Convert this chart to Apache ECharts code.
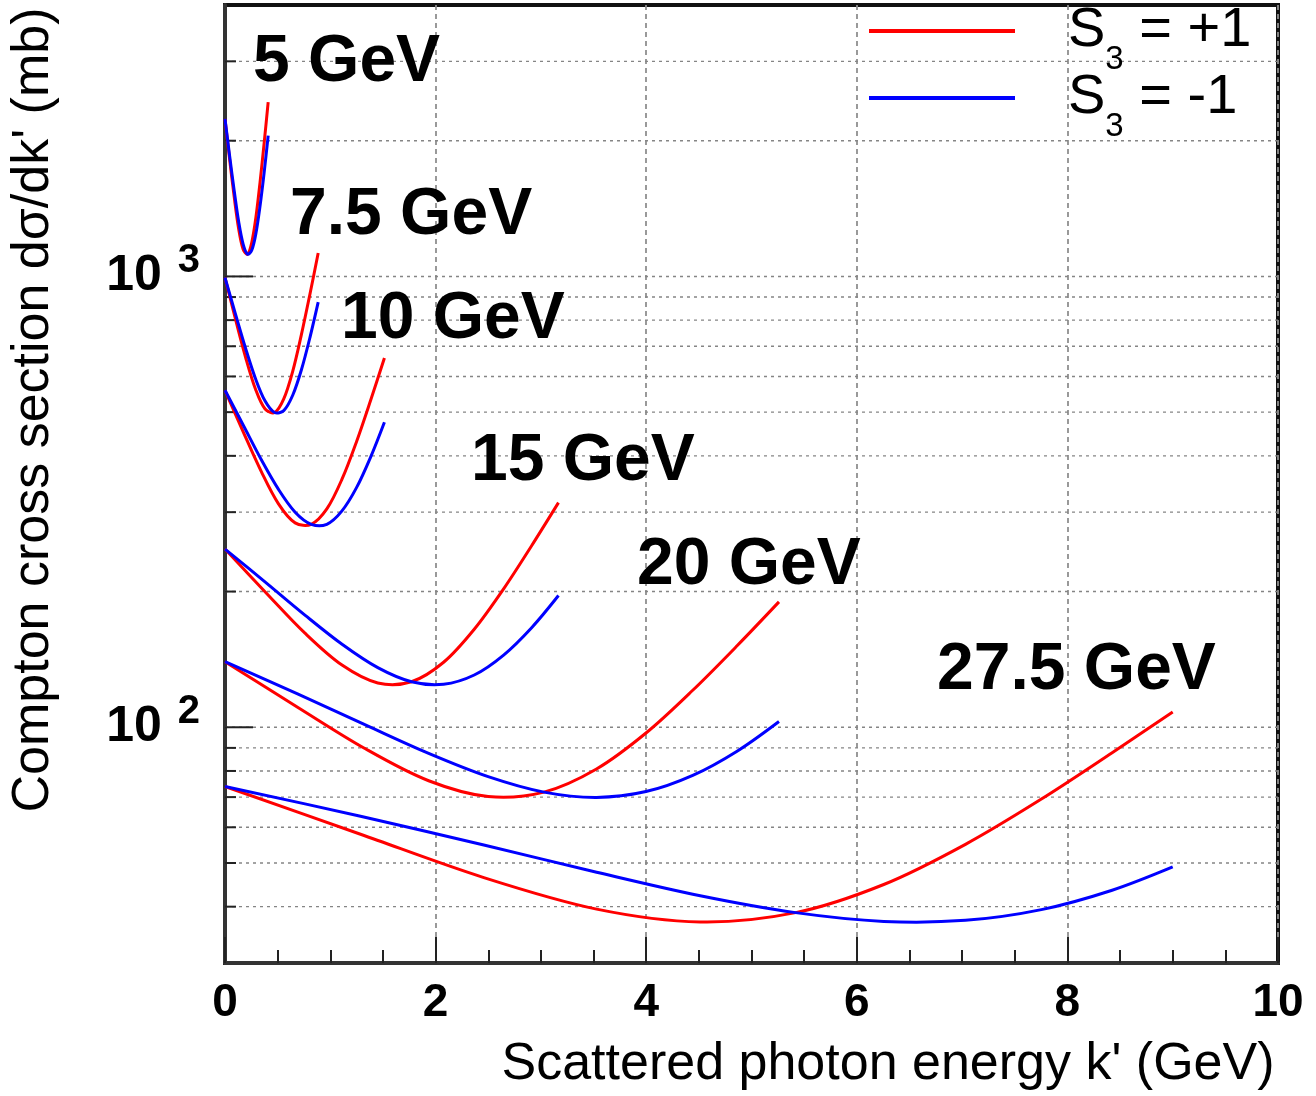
<!DOCTYPE html>
<html>
<head>
<meta charset="utf-8">
<title>Compton cross section</title>
<script src="https://cdn.jsdelivr.net/npm/echarts@6/dist/echarts.min.js"></script>
<style>
  html, body { margin: 0; padding: 0; background: #ffffff; }
  #chart { width: 1316px; height: 1096px; }
</style>
</head>
<body>
<div id="chart"></div>
<script>
// Beam energies and the curve labels drawn next to them
const beamLabels = ['5 GeV', '7.5 GeV', '10 GeV', '15 GeV', '20 GeV', '27.5 GeV'];

// Scattered photon energy k' (GeV) and dsigma/dk' (mb) for S3 = +1 / S3 = -1
const k5 = [0, 0.044, 0.088, 0.130, 0.172, 0.214, 0.254, 0.294, 0.333, 0.372, 0.410];
const plus5 = [2236, 1818, 1497, 1274, 1149, 1120, 1189, 1355, 1619, 1979, 2436];
const minus5 = [2236, 1850, 1545, 1322, 1180, 1120, 1143, 1247, 1434, 1702, 2053];

const k75 = [0, 0.099, 0.196, 0.290, 0.381, 0.471, 0.558, 0.643, 0.725, 0.806, 0.885];
const plus75 = [994, 805, 661, 562, 508, 499, 535, 616, 742, 912, 1127];
const minus75 = [994, 826, 692, 593, 529, 499, 504, 545, 620, 731, 877];

const k10 = [0, 0.175, 0.345, 0.508, 0.666, 0.819, 0.967, 1.111, 1.249, 1.384, 1.514];
const plus10 = [559, 451, 369, 313, 284, 282, 305, 355, 430, 532, 659];
const minus10 = [559, 467, 392, 337, 300, 282, 282, 302, 340, 398, 475];

const k15 = [0, 0.391, 0.762, 1.115, 1.451, 1.771, 2.076, 2.367, 2.646, 2.912, 3.167];
const plus15 = [248.5, 198.6, 161.5, 137.2, 125.4, 126.2, 139.4, 165.0, 202.8, 252.8, 315.0];
const minus15 = [248.5, 209.1, 177.1, 152.6, 135.6, 126.2, 124.6, 130.6, 144.6, 166.3, 196.0];

const k20 = [0, 0.689, 1.333, 1.934, 2.499, 3.029, 3.528, 3.998, 4.442, 4.863, 5.261];
const plus20 = [139.8, 110.8, 89.6, 76.1, 70.2, 71.8, 80.8, 97.1, 120.8, 151.6, 189.7];
const minus20 = [139.8, 118.6, 101.2, 87.5, 77.7, 71.8, 69.9, 72.0, 78.2, 88.5, 103.0];

const k275 = [0, 1.287, 2.458, 3.529, 4.513, 5.419, 6.256, 7.032, 7.753, 8.425, 9.0];
const plus275 = [73.9, 57.9, 46.4, 39.5, 37.0, 38.8, 44.8, 55.0, 69.3, 87.8, 108.1];
const minus275 = [73.9, 63.5, 54.8, 47.7, 42.3, 38.8, 37.1, 37.3, 39.4, 43.5, 49.0];

// Axis ticks
const xTicks = [0, 2, 4, 6, 8, 10];
const yTickExponents = [2, 3];
const yGridValues = [40, 50, 60, 70, 80, 90, 100, 200, 300, 400, 500, 600, 700, 800, 900, 1000, 2000, 3000];
const yMajorValues = [100, 1000];

const legendNames = ['S3 = +1', 'S3 = -1'];

// ---------------------------------------------------------------------------
const FONT = '"Liberation Sans", Arial, Helvetica, sans-serif';
const RED = '#ff0000';
const BLUE = '#0000ff';

const curves = [
  [k5, plus5, minus5],
  [k75, plus75, minus75],
  [k10, plus10, minus10],
  [k15, plus15, minus15],
  [k20, plus20, minus20],
  [k275, plus275, minus275]
];

// One smooth curve per series, passed through the axis scales with api.coord
function curveSeries(name, color, ks, vals) {
  const pts = ks.map((k, i) => [k, vals[i]]);
  return {
    name: name,
    type: 'custom',
    data: pts,
    encode: { x: 0, y: 1 },
    itemStyle: { color: color },
    silent: true,
    z: 3,
    clip: false,
    renderItem: function (params, api) {
      if (params.dataIndex !== 0) return null;
      const screen = pts.map(p => api.coord(p));
      return {
        type: 'polyline',
        shape: { points: screen, smooth: 0.33 },
        style: { stroke: color, lineWidth: 3, fill: null, lineJoin: 'round' }
      };
    }
  };
}

const series = [];

// dotted horizontal grid at every decade subdivision, with the short ticks on the left axis
series.push({
  type: 'custom',
  silent: true,
  z: 1,
  clip: false,
  data: yGridValues.map(v => [0, v]),
  encode: { x: 0, y: 1 },
  renderItem: function (params, api) {
    const v = api.value(1);
    const left = api.coord([0, v]);
    const right = api.coord([10, v]);
    const len = yMajorValues.indexOf(v) >= 0 ? 28 : 11;
    return {
      type: 'group',
      children: [
        {
          type: 'line',
          shape: { x1: left[0], y1: left[1], x2: right[0], y2: right[1] },
          style: { stroke: '#858585', lineWidth: 1.4, lineDash: [3, 4] }
        },
        {
          type: 'line',
          shape: { x1: left[0], y1: left[1], x2: left[0] + len, y2: left[1] },
          style: { stroke: '#222222', lineWidth: 2 }
        }
      ]
    };
  }
});

curves.forEach(c => {
  series.push(curveSeries(legendNames[0], RED, c[0], c[1]));
  series.push(curveSeries(legendNames[1], BLUE, c[0], c[2]));
});

// curve labels (text anchors in pixels)
const labelAnchors = [[253, 63], [290, 216], [341, 320], [471, 462], [637, 566], [937, 671]];
const graphics = beamLabels.map((t, i) => ({
  type: 'text',
  x: labelAnchors[i][0],
  y: labelAnchors[i][1],
  z: 10,
  silent: true,
  style: {
    text: t,
    font: 'bold 66px ' + FONT,
    fill: '#000000',
    verticalAlign: 'middle',
    align: 'left'
  }
}));

const chart = echarts.init(document.getElementById('chart'), null, { renderer: 'canvas' });

chart.setOption({
  animation: false,
  backgroundColor: '#ffffff',
  textStyle: { fontFamily: FONT, color: '#000' },
  grid: {
    left: 222, right: 38, top: 5, bottom: 133,
    show: true,
    borderColor: '#111111',
    borderWidth: 4,
    backgroundColor: 'transparent'
  },
  legend: {
    data: legendNames,
    orient: 'vertical',
    left: 869,
    top: 3,
    padding: 0,
    itemGap: -6,
    itemWidth: 146,
    itemHeight: 4,
    icon: 'rect',
    selectedMode: false,
    formatter: function (n) {
      return n === legendNames[0] ? '{s|S}{u|3}{s| = +1}' : '{s|S}{u|3}{s| = -1}';
    },
    textStyle: {
      padding: [0, 0, 0, 48],
      rich: {
        s: { fontSize: 56, lineHeight: 56, fontFamily: FONT, color: '#000' },
        u: { fontSize: 33, lineHeight: 33, verticalAlign: 'bottom', padding: [0, 0, -17, 0], fontFamily: FONT, color: '#000' }
      }
    }
  },
  xAxis: {
    type: 'value',
    min: xTicks[0],
    max: xTicks[xTicks.length - 1],
    interval: 2,
    name: "Scattered photon energy k' (GeV)",
    nameLocation: 'middle',
    nameGap: 76,
    nameTextStyle: { fontSize: 52, fontFamily: FONT, color: '#000', padding: [0, 0, 0, 273] },
    axisLine: { show: true, lineStyle: { color: '#333333', width: 4 } },
    axisTick: { show: true, inside: true, length: 26, lineStyle: { color: '#222222', width: 2 } },
    minorTick: { show: true, splitNumber: 4, length: 13, lineStyle: { color: '#222222', width: 2 } },
    axisLabel: {
      fontSize: 46, fontWeight: 'bold', fontFamily: FONT, color: '#000', margin: 17,
      formatter: v => (xTicks.indexOf(v) >= 0 ? String(v) : '')
    },
    splitLine: { show: true, lineStyle: { color: '#8f8f8f', width: 1.8, type: [5, 4] } },
    minorSplitLine: { show: false }
  },
  yAxis: {
    type: 'log',
    logBase: 10,
    min: 30,
    max: 4000,
    name: "Compton cross section d\u03c3/dk' (mb)",
    nameLocation: 'middle',
    nameRotate: 90,
    nameGap: 165,
    nameTextStyle: { fontSize: 52, fontFamily: FONT, color: '#000', padding: [0, 0, 0, 148] },
    axisLine: { show: true, lineStyle: { color: '#333333', width: 4 } },
    axisTick: { show: false },
    splitLine: { show: false },
    axisLabel: {
      margin: 25,
      formatter: function (v) {
        const e = Math.log10(v);
        const r = Math.round(e);
        if (Math.abs(e - r) < 1e-6 && yTickExponents.indexOf(r) >= 0) return '{b|10}{s|' + r + '}';
        return '';
      },
      rich: {
        b: { fontSize: 50, fontWeight: 'bold', lineHeight: 50, fontFamily: FONT, color: '#000' },
        s: { fontSize: 40, fontWeight: 'bold', lineHeight: 40, verticalAlign: 'top', fontFamily: FONT, color: '#000', padding: [-10, 0, 0, 16] }
      }
    }
  },
  graphic: graphics,
  series: series
});
</script>
</body>
</html>
